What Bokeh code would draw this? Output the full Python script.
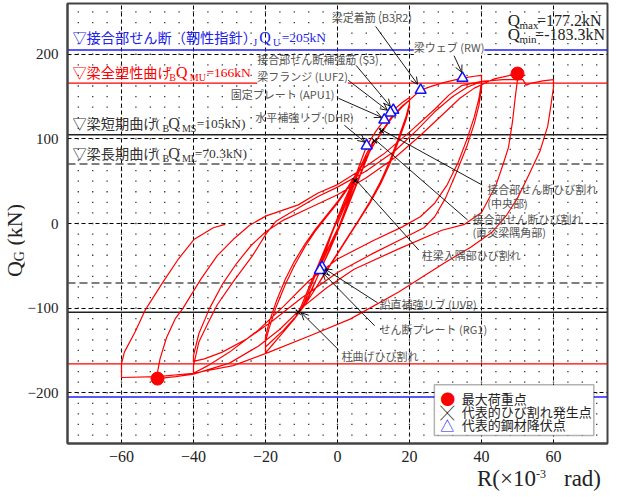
from bokeh.plotting import figure
from bokeh.models import Span, Label, Arrow, OpenHead, FixedTicker, BoxAnnotation, Range1d, Div
from bokeh.layouts import row, column
from bokeh.embed import file_html
from bokeh.resources import INLINE
import numpy as np

# ---------------- data ----------------
# hysteresis path: story drift R (x10^-3 rad) and shear Q_G (kN)
R_PATH = [
    0, 2.5, 5,
    4.2, 2.5, 0.5, -2.5, -5,
    -4.2, -2.5, -0.5, 2.5, 5,
    4.2, 2.5, 0.5, -2.5, -5,
    -4.2, -2.5, -0.5, 2.5, 5.5, 8, 10,
    9.3, 7, 4, 1, -2, -5, -8, -10,
    -9.3, -7, -4, -1, 2, 5, 8, 10,
    9.3, 7, 4, 1, -2, -4.6, -8, -10.9,
    -10, -7, -4, -1, 2, 4.9, 8.1, 10.5, 13, 14.7, 15.5, 18, 20,
    20, 19, 17, 14.5, 12, 9, 6, 3, 0, -3, -6, -9, -12, -15, -18, -20,
    -20, -19, -17, -14.5, -12, -9, -6, -3, 0, 3, 6, 9, 12, 15, 18, 20,
    20, 19, 17, 14.5, 12, 9, 6, 3, 0, -3, -6, -9, -12, -15, -18, -20,
    -20, -19, -17, -14.5, -12, -9, -6, -3, 0, 3, 6, 9, 12, 15, 18, 20, 23.1, 26, 30, 34.7, 38, 40,
    40, 39.3, 38, 36, 33.5, 30.5, 27, 23, 18, 10, 0, -8, -15, -22, -30, -36, -40,
    -40, -38.5, -36, -33.4, -29, -23.6, -19.8, -17, -11, -5.4, 0, 8, 16, 22, 27, 32, 36, 40,
    40, 39.3, 38, 36, 33, 30, 27, 24, 18, 10, 0, -10, -18, -25, -32, -37, -40,
    -40, -38.5, -35.5, -32, -28, -24, -20, -15, -8, 0, 8, 16, 23, 29, 34, 38, 43.6, 50,
    50, 49.4, 48.6, 47.5, 46, 44, 40, 35.3, 29, 17, 4.6, -3, -10, -16, -22, -30, -40, -45, -50,
    -50, -49.3, -47.5, -45, -42.9, -38, -33.4, -29, -24.4, -19.8, -10.9, -5.4, 0, 6, 12.8, 20, 27, 31, 34.5, 40, 46, 51.5, 52.4, 54, 57, 60,
    60, 59.3, 58.4, 56.2, 53, 50, 47, 43, 37, 29.9, 17, 3.5, -7.3, -19, -29, -40, -50, -60,
    -60, -59.2, -56.2, -53.5, -48.9, -44.2, -39.9, -34.5, -31.2,
]
Q_PATH = [
    0, 25, 50,
    41, 20, -2, -28, -52,
    -43, -22, 1, 27, 51,
    42, 21, -3, -29, -53,
    -44, -23, 1, 28, 56, 82, 98,
    90, 66, 34, 2, -28, -58, -85, -101,
    -94, -70, -38, -6, 24, 54, 82, 97,
    89, 64, 32, 0, -30, -53.5, -87, -104.7,
    -97, -66, -35, -4, 28, 55, 91.8, 108, 122.4, 130.8, 134, 143, 149,
    142, 126, 102, 74, 50, 26, 5, -15, -35, -55, -76, -96, -113, -128, -143, -153,
    -140, -124, -98, -72, -50, -27, -8, 8, 24, 42, 62, 85, 107, 126, 139, 146,
    138, 122, 98, 70, 47, 24, 4, -16, -36, -56, -76, -96, -112, -126, -138, -146,
    -134, -117, -92, -66, -45, -24, -6, 10, 26, 44, 64, 86, 106, 124, 138, 146, 157.6, 162, 167, 171.8, 174, 175,
    167, 148, 126, 100, 72, 46, 24, 8, -4, -20, -42, -68, -98, -126, -152, -168, -177,
    -168, -140, -118, -96, -69, -38, -12, 3, 18, 32, 43, 62, 86, 110, 132, 150, 161, 168,
    160, 140, 118, 92, 60, 30, 8, -5, -18, -35, -58, -88, -115, -136, -152, -160, -163,
    -156, -130, -100, -72, -47, -26, -10, 4, 18, 34, 54, 78, 104, 128, 148, 160, 171, 177.2,
    170, 150, 120, 90, 70, 45, 13, -1, -8, -30, -54, -76, -100, -125, -145, -165, -178, -181, -183.3,
    -176, -160, -135, -112, -100, -66, -38, -19, -2, 9, 22, 36, 46, 62, 82, 108, 135, 152, 163, 168, 170, 170, 163.5, 166, 168.5, 170,
    161, 140, 115, 85, 56, 30, 10, -10, -28, -46, -81, -113, -132, -152, -168, -177, -181, -182,
    -166, -152, -128, -103, -72, -42, -19, -5, -1,
]
assert len(R_PATH) == len(Q_PATH)

MAX_R = [50.0, -50.0]
MAX_Q = [177.2, -183.3]

CRACK_R = [12.2, 10.3, 4.9, -10.9]
CRACK_Q = [109.4, 97.6, 50.6, -104.7]

YIELD_NAMES = ["RW", "B3R2", "S3", "LUF2", "APU1", "DHR", "UVR", "RG1"]
YIELD_R = [34.7, 23.1, 15.5, 14.7, 13.0, 8.1, -4.3, -4.9]
YIELD_Q = [171.8, 157.6, 134.0, 130.8, 122.4, 91.8, -51.8, -55.3]

Q_JU = 205.0     # joint shear
Q_MU = 166.0     # beam full plastic
Q_MS = 105.0     # beam short-term
Q_ML = 70.3      # beam long-term

X_TICKS = [-60, -40, -20, 0, 20, 40, 60]
Y_TICKS = [-200, -100, 0, 100, 200]

# ---------------- layout ----------------
YDIV_W = 24
XDIV_H = 17
W, H = 587, 464
BL, BR, BT, BB = 31, 4, 3, 20
X0, X1 = -75, 75
Y0, Y1 = -260, 260
FW = W - BL - BR
FH = H - BT - BB
FRAME_LEFT_PAGE = 8 + YDIV_W + BL
FRAME_TOP_PAGE = 8 + BT


def dx(px):
    return X0 + (px - FRAME_LEFT_PAGE) * (X1 - X0) / FW


def dy(py):
    return Y1 - (py - FRAME_TOP_PAGE) * (Y1 - Y0) / FH


JP = "Noto Sans CJK JP"
SERIF = "Liberation Serif"

p = figure(width=W, height=H, x_range=Range1d(X0, X1), y_range=Range1d(Y0, Y1),
           output_backend="svg", toolbar_location=None,
           min_border_left=BL, min_border_right=BR, min_border_top=BT, min_border_bottom=BB)
p.background_fill_color = "white"
p.border_fill_color = "white"
p.outline_line_color = "#444444"
p.outline_line_width = 2

p.xaxis.ticker = FixedTicker(ticks=X_TICKS)
p.yaxis.ticker = FixedTicker(ticks=Y_TICKS)
for ax in (p.xaxis, p.yaxis):
    ax.major_label_text_font = SERIF
    ax.major_label_text_color = "#222222"
    ax.major_tick_line_color = None
    ax.minor_tick_line_color = None
    ax.axis_line_color = "#444444"
    ax.axis_line_width = 2
p.xaxis.major_label_text_font_size = "16px"
p.yaxis.major_label_text_font_size = "15px"
p.yaxis.major_label_standoff = 3
p.xaxis.major_label_standoff = 1

for g in (p.xgrid, p.ygrid):
    g.grid_line_color = "black"
    g.grid_line_dash = "4 3"
    g.grid_line_width = 1

# dotted lattice (minor grid)
gx, gy = np.meshgrid(np.arange(-72, 73, 4), np.arange(-250, 251, 12.5))
p.scatter(gx.ravel(), gy.ravel(), marker="square", size=1.3, color="#333333", line_width=0)

# limit lines
for v in (Q_JU, -Q_JU):
    p.add_layout(Span(location=v, dimension="width", line_color="#1f1fff", line_width=1.5, level="underlay"))
for v in (Q_MU, -Q_MU):
    p.add_layout(Span(location=v, dimension="width", line_color="#ff0000", line_width=1.3, level="underlay"))
for v in (Q_MS, -Q_MS):
    p.add_layout(Span(location=v, dimension="width", line_color="#222222", line_width=1.5, level="underlay"))
for v in (Q_ML, -Q_ML):
    p.add_layout(Span(location=v, dimension="width", line_color="#555555", line_width=1.4,
                      line_dash="8 4", level="underlay"))

# hysteresis curve
p.line(R_PATH, Q_PATH, line_color="#ff0000", line_width=1.2, line_join="round")

# points
p.scatter(CRACK_R, CRACK_Q, marker="x", size=7, line_color="black", line_width=1.2)
p.scatter(YIELD_R, YIELD_Q, marker="triangle", size=11, fill_color="white",
          line_color="#1010ff", line_width=1.5)
p.scatter(MAX_R, MAX_Q, marker="circle", size=13, fill_color="#ff0000", line_color="#ff0000")


def lab(text, px, py, size, color, font=JP, bg=None, yoff=0):
    kw = {}
    if bg is not None:
        kw.update(background_fill_color=bg, background_fill_alpha=1.0)
    p.add_layout(Label(x=dx(px), y=dy(py), y_offset=yoff, text=text, text_font=font,
                       text_font_size=f"{size}px", text_color=color, text_align="left",
                       text_baseline="middle", **kw))


def arrow(x0, y0, x1, y1, head=True):
    end = OpenHead(size=7, line_color="black", line_width=0.9) if head else None
    p.add_layout(Arrow(x_start=dx(x0), y_start=dy(y0), x_end=dx(x1), y_end=dy(y1),
                       line_color="black", line_width=0.9, end=end))


# legend box
p.add_layout(BoxAnnotation(left=dx(438), right=dx(601), top=dy(393), bottom=dy(444),
                           fill_color="white", fill_alpha=1.0, line_color="black", line_width=1.5))
lab("●", 444, 407, 15, "#ff0000")
lab("╳", 444, 420, 14, "black")
lab("△", 444, 433, 14, "#1010ff")
lab("最大荷重点", 466, 407, 13, "#222222")
lab("代表的ひび割れ発生点", 466, 420, 13, "#222222")
lab("代表的鋼材降伏点", 466, 433, 13, "#222222")

# annotation arrows
arrow(378, 34, 421, 92)
arrow(458, 63, 466, 80)
arrow(358, 73, 393, 114)
arrow(350, 88, 390, 118)
arrow(340, 106, 384, 125)
arrow(346, 133, 367, 150)
arrow(487, 193, 385, 138, head=False)
arrow(472, 228, 378, 148, head=False)
arrow(422, 258, 358, 188, head=False)
arrow(380, 311, 326, 277)
arrow(377, 334, 324, 281)
arrow(340, 358, 302, 321)

GRAY = "#555555"
lab("梁定着筋 (B3R2)", 333, 25, 11, GRAY)
lab("梁ウェブ (RW)", 417, 55, 11, GRAY, bg="white")
lab("接合部せん断補強筋 (S3)", 257, 67, 11, GRAY)
lab("梁フランジ (LUF2)", 257, 84, 11, GRAY, bg="white")
lab("固定プレート (APU1)", 230, 102, 11, GRAY)
lab("水平補強リブ (DHR)", 255, 125, 11, GRAY)
lab("接合部せん断ひび割れ", 492, 197, 11, GRAY)
lab("(中央部)", 492, 211, 11, GRAY)
lab("接合部せん断ひび割れ", 477, 227, 11, GRAY)
lab("(直交梁隅角部)", 477, 240, 11, GRAY)
lab("柱梁入隅部ひび割れ", 425, 263, 11, GRAY)
lab("鉛直補強リブ (UVR)", 382, 312, 11, GRAY)
lab("せん断プレート (RG1)", 382, 337, 11, GRAY)
lab("柱曲げひび割れ", 343, 364, 11, GRAY)

# capacity labels
BLUE = "#2222ee"
lab("▽接合部せん断（靭性指針）", 68, 45, 14.2, BLUE)
lab("J", 253, 45, 10, BLUE, font=SERIF, yoff=-5)
lab("Q", 259, 45, 16, BLUE, font=SERIF)
lab("U", 273, 45, 10, BLUE, font=SERIF, yoff=-5)
lab("=205kN", 282, 45, 13.5, BLUE, font=SERIF)

RED = "#ff0000"
lab("▽梁全塑性曲げ", 68, 80, 14.2, RED)
lab("B", 167, 80, 10, RED, font=SERIF, yoff=-5)
lab("Q", 174, 80, 16, RED, font=SERIF)
lab("MU", 188, 80, 10, RED, font=SERIF, yoff=-5)
lab("=166kN", 205, 80, 13.5, RED, font=SERIF)

DARK = "#333333"
lab("▽梁短期曲げ", 68, 131, 14.2, DARK)
lab("(", 153, 131, 13.5, DARK, font=SERIF)
lab("B", 160, 131, 10, DARK, font=SERIF, yoff=-5)
lab("Q", 166, 131, 16, DARK, font=SERIF)
lab("MS", 180, 131, 10, DARK, font=SERIF, yoff=-5)
lab("=105kN)", 195, 131, 13.5, DARK, font=SERIF)

lab("▽梁長期曲げ", 68, 161, 14.2, DARK)
lab("(", 153, 161, 13.5, DARK, font=SERIF)
lab("B", 160, 161, 10, DARK, font=SERIF, yoff=-5)
lab("Q", 166, 161, 16, DARK, font=SERIF)
lab("ML", 180, 161, 10, DARK, font=SERIF, yoff=-5)
lab("=70.3kN)", 193, 161, 13.5, DARK, font=SERIF)

# Qmax / Qmin
lab("Q", 513, 28, 17, "#222222", font=SERIF)
lab("max", 525, 28, 11, "#222222", font=SERIF, yoff=-5)
lab("=177.2kN", 543, 28, 16, "#222222", font=SERIF)
lab("Q", 513, 42, 17, "#222222", font=SERIF)
lab("min", 525, 42, 11, "#222222", font=SERIF, yoff=-5)
lab("=-183.3kN", 541, 42, 16, "#222222", font=SERIF)

# axis titles as HTML text (sub/superscripts)
Y_TITLE = ('<div style="writing-mode:vertical-rl; transform:rotate(180deg); margin-top:204px; '
           'margin-left:5px; white-space:nowrap; font-family:\'Liberation Serif\', serif; '
           'font-size:22px; line-height:20px; color:#222;">'
           'Q<span style="font-size:14px; vertical-align:sub;">G</span> (kN)</div>')
X_TITLE = ('<div style="margin-left:453px; position:relative; top:6px; height:17px; line-height:17px; '
           'white-space:nowrap; font-family:\'Liberation Serif\', serif; font-size:23px; color:#222;">'
           'R(×10<span style="font-size:12px; position:relative; top:-8px;">-3</span>'
           '<span style="margin-left:18px;">rad)</span></div>')

ydiv = Div(text=Y_TITLE, width=YDIV_W, height=H + XDIV_H, margin=0)
xdiv = Div(text=X_TITLE, width=W, height=XDIV_H, margin=0)

layout = row(ydiv, column(p, xdiv, spacing=0), spacing=0)

with open("out.html", "w", encoding="utf-8") as f:
    f.write(file_html(layout, INLINE))
